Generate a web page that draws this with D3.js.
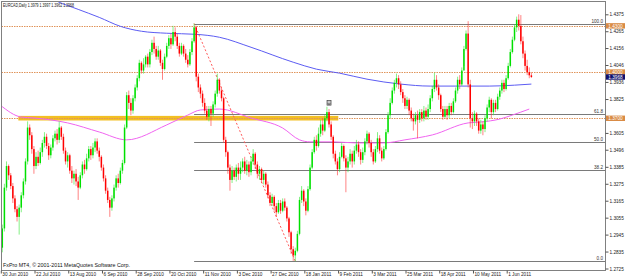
<!DOCTYPE html>
<html>
<head>
<meta charset="utf-8">
<script src="https://cdnjs.cloudflare.com/ajax/libs/d3/7.8.5/d3.min.js"></script>
<style>
  body { margin: 0; background: #ffffff; }
  svg { display: block; font-family: "Liberation Sans", Arial, sans-serif; }
</style>
</head>
<body>
<div id="grafiekContainer"></div>
<script>

var opens = [1.2860,1.2985,1.3250,1.3390,1.3330,1.3260,1.3180,1.3110,1.3060,1.3120,
  1.3200,1.3290,1.3420,1.3640,1.3590,1.3500,1.3390,1.3450,1.3410,1.3480,
  1.3540,1.3580,1.3520,1.3460,1.3510,1.3570,1.3600,1.3560,1.3640,1.3580,
  1.3490,1.3420,1.3460,1.3360,1.3310,1.3340,1.3290,1.3250,1.3330,1.3400,
  1.3370,1.3440,1.3500,1.3460,1.3510,1.3550,1.3490,1.3450,1.3380,1.3310,
  1.3230,1.3170,1.3120,1.3180,1.3250,1.3310,1.3280,1.3360,1.3410,1.3640,
  1.3850,1.3800,1.3750,1.3830,1.3900,1.3960,1.4060,1.4010,1.4050,1.4100,
  1.4050,1.4130,1.4190,1.4150,1.4100,1.4140,1.4060,1.4020,1.4100,1.4170,
  1.4220,1.4180,1.4260,1.4230,1.4170,1.4120,1.4170,1.4120,1.4080,1.4050,
  1.4130,1.4200,1.4290,1.3970,1.3900,1.3860,1.3800,1.3750,1.3710,1.3760,
  1.3730,1.3790,1.3860,1.3950,1.3880,1.3830,1.3560,1.3480,1.3380,1.3300,
  1.3360,1.3320,1.3380,1.3340,1.3380,1.3420,1.3360,1.3400,1.3350,1.3420,
  1.3470,1.3400,1.3340,1.3370,1.3300,1.3340,1.3270,1.3200,1.3150,1.3190,
  1.3130,1.3090,1.3150,1.3100,1.3160,1.3120,1.3050,1.2960,1.2850,1.2810,
  1.2840,1.2950,1.3170,1.3230,1.3160,1.3100,1.3240,1.3380,1.3480,1.3560,
  1.3520,1.3600,1.3660,1.3620,1.3700,1.3740,1.3660,1.3580,1.3470,1.3420,
  1.3370,1.3450,1.3520,1.3440,1.3380,1.3420,1.3470,1.3420,1.3490,1.3530,
  1.3480,1.3430,1.3480,1.3550,1.3600,1.3540,1.3480,1.3420,1.3500,1.3570,
  1.3490,1.3440,1.3500,1.3610,1.3720,1.3800,1.3880,1.3930,1.3960,1.3920,
  1.3870,1.3830,1.3780,1.3820,1.3750,1.3700,1.3680,1.3720,1.3690,1.3740,
  1.3700,1.3750,1.3710,1.3760,1.3830,1.3890,1.3950,1.3900,1.3850,1.3760,
  1.3710,1.3760,1.3720,1.3780,1.3740,1.3810,1.3880,1.3950,1.3920,1.4010,
  1.4150,1.4250,1.3920,1.3700,1.3680,1.3730,1.3680,1.3620,1.3660,1.3630,
  1.3700,1.3770,1.3820,1.3740,1.3800,1.3760,1.3840,1.3880,1.3930,1.3890,
  1.3960,1.4040,1.4130,1.4210,1.4290,1.4340,1.4300,1.4200,1.4120,1.4040,
  1.4000,1.3979];

var highs = [1.3010,1.3275,1.3420,1.3400,1.3345,1.3280,1.3200,1.3130,1.3140,1.3220,
  1.3310,1.3440,1.3680,1.3660,1.3610,1.3520,1.3480,1.3490,1.3510,1.3560,
  1.3610,1.3600,1.3540,1.3530,1.3590,1.3620,1.3630,1.3680,1.3650,1.3600,
  1.3510,1.3480,1.3470,1.3390,1.3360,1.3370,1.3320,1.3350,1.3420,1.3430,
  1.3470,1.3520,1.3520,1.3540,1.3570,1.3570,1.3510,1.3460,1.3400,1.3330,
  1.3250,1.3190,1.3200,1.3270,1.3330,1.3340,1.3380,1.3430,1.3660,1.3870,
  1.3880,1.3830,1.3850,1.3920,1.3980,1.4080,1.4070,1.4090,1.4110,1.4120,
  1.4150,1.4210,1.4230,1.4170,1.4170,1.4150,1.4080,1.4120,1.4190,1.4240,
  1.4250,1.4300,1.4290,1.4250,1.4190,1.4190,1.4180,1.4150,1.4110,1.4150,
  1.4220,1.4315,1.4300,1.3990,1.3920,1.3880,1.3830,1.3780,1.3780,1.3780,
  1.3810,1.3880,1.3990,1.3960,1.3900,1.3840,1.3580,1.3490,1.3400,1.3390,
  1.3380,1.3400,1.3410,1.3420,1.3440,1.3450,1.3430,1.3420,1.3450,1.3500,
  1.3480,1.3420,1.3390,1.3380,1.3360,1.3350,1.3290,1.3220,1.3210,1.3200,
  1.3150,1.3170,1.3170,1.3180,1.3180,1.3130,1.3060,1.2970,1.2870,1.2860,
  1.2970,1.3190,1.3260,1.3240,1.3180,1.3260,1.3400,1.3500,1.3580,1.3590,
  1.3640,1.3690,1.3700,1.3720,1.3775,1.3760,1.3680,1.3590,1.3490,1.3440,
  1.3480,1.3540,1.3530,1.3460,1.3450,1.3500,1.3490,1.3520,1.3560,1.3550,
  1.3500,1.3510,1.3570,1.3620,1.3610,1.3560,1.3500,1.3520,1.3610,1.3590,
  1.3510,1.3520,1.3630,1.3740,1.3830,1.3900,1.3950,1.3990,1.3980,1.3940,
  1.3890,1.3850,1.3840,1.3830,1.3770,1.3730,1.3740,1.3750,1.3760,1.3760,
  1.3780,1.3770,1.3790,1.3850,1.3910,1.3995,1.3980,1.3920,1.3860,1.3780,
  1.3780,1.3780,1.3800,1.3800,1.3830,1.3900,1.3970,1.3980,1.4030,1.4170,
  1.4270,1.4330,1.3950,1.3740,1.3750,1.3740,1.3700,1.3690,1.3680,1.3720,
  1.3790,1.3840,1.3830,1.3820,1.3820,1.3860,1.3900,1.3950,1.3950,1.3980,
  1.4060,1.4150,1.4230,1.4310,1.4360,1.4375,1.4370,1.4230,1.4140,1.4080,
  1.4030,1.3997];

var lows = [1.2830,1.2965,1.3230,1.3300,1.3240,1.3150,1.3090,1.3030,1.2945,1.3090,
  1.3180,1.3270,1.3400,1.3560,1.3470,1.3340,1.3370,1.3390,1.3400,1.3450,
  1.3510,1.3500,1.3430,1.3440,1.3490,1.3550,1.3530,1.3540,1.3560,1.3470,
  1.3400,1.3380,1.3340,1.3280,1.3270,1.3260,1.3170,1.3240,1.3310,1.3340,
  1.3360,1.3420,1.3430,1.3440,1.3480,1.3470,1.3420,1.3360,1.3290,1.3210,
  1.3150,1.3060,1.3100,1.3160,1.3230,1.3250,1.3270,1.3340,1.3400,1.3630,
  1.3760,1.3720,1.3730,1.3810,1.3880,1.3940,1.3990,1.3990,1.4030,1.4030,
  1.4030,1.4110,1.4120,1.4080,1.4080,1.4040,1.3950,1.4010,1.4090,1.4150,
  1.4150,1.4170,1.4200,1.4150,1.4100,1.4110,1.4100,1.4060,1.4030,1.4040,
  1.4110,1.4190,1.3940,1.3870,1.3830,1.3775,1.3730,1.3690,1.3680,1.3650,
  1.3710,1.3770,1.3840,1.3860,1.3810,1.3540,1.3450,1.3340,1.3230,1.3280,
  1.3300,1.3290,1.3300,1.3300,1.3350,1.3340,1.3330,1.3320,1.3330,1.3400,
  1.3370,1.3310,1.3300,1.3280,1.3270,1.3250,1.3180,1.3130,1.3130,1.3100,
  1.3060,1.3080,1.3080,1.3090,1.3100,1.3030,1.2930,1.2820,1.2775,1.2772,
  1.2830,1.2940,1.3150,1.3130,1.3070,1.3090,1.3230,1.3370,1.3470,1.3490,
  1.3510,1.3580,1.3590,1.3610,1.3680,1.3640,1.3560,1.3440,1.3400,1.3330,
  1.3350,1.3440,1.3420,1.3220,1.3350,1.3400,1.3380,1.3400,1.3470,1.3450,
  1.3400,1.3410,1.3460,1.3530,1.3510,1.3450,1.3400,1.3410,1.3480,1.3470,
  1.3420,1.3430,1.3490,1.3600,1.3700,1.3790,1.3860,1.3900,1.3890,1.3850,
  1.3800,1.3760,1.3760,1.3720,1.3680,1.3620,1.3660,1.3570,1.3670,1.3680,
  1.3680,1.3690,1.3690,1.3740,1.3810,1.3870,1.3880,1.3820,1.3740,1.3690,
  1.3700,1.3690,1.3700,1.3720,1.3730,1.3800,1.3860,1.3890,1.3910,1.4040,
  1.4140,1.3900,1.3640,1.3630,1.3650,1.3650,1.3600,1.3600,1.3590,1.3610,
  1.3680,1.3740,1.3700,1.3720,1.3740,1.3750,1.3820,1.3860,1.3870,1.3880,
  1.3950,1.4030,1.4120,1.4200,1.4260,1.4270,1.4180,1.4090,1.4010,1.3980,
  1.3960,1.3962];

var closes = [1.2985,1.3250,1.3390,1.3330,1.3260,1.3180,1.3110,1.3060,1.3120,1.3200,
  1.3290,1.3420,1.3640,1.3590,1.3500,1.3390,1.3450,1.3410,1.3480,1.3540,
  1.3580,1.3520,1.3460,1.3510,1.3570,1.3600,1.3560,1.3640,1.3580,1.3490,
  1.3420,1.3460,1.3360,1.3310,1.3340,1.3290,1.3250,1.3330,1.3400,1.3370,
  1.3440,1.3500,1.3460,1.3510,1.3550,1.3490,1.3450,1.3380,1.3310,1.3230,
  1.3170,1.3120,1.3180,1.3250,1.3310,1.3280,1.3360,1.3410,1.3640,1.3850,
  1.3800,1.3750,1.3830,1.3900,1.3960,1.4060,1.4010,1.4050,1.4100,1.4050,
  1.4130,1.4190,1.4150,1.4100,1.4140,1.4060,1.4020,1.4100,1.4170,1.4220,
  1.4180,1.4260,1.4230,1.4170,1.4120,1.4170,1.4120,1.4080,1.4050,1.4130,
  1.4200,1.4290,1.3970,1.3900,1.3860,1.3800,1.3750,1.3710,1.3760,1.3730,
  1.3790,1.3860,1.3950,1.3880,1.3830,1.3560,1.3480,1.3380,1.3300,1.3360,
  1.3320,1.3380,1.3340,1.3380,1.3420,1.3360,1.3400,1.3350,1.3420,1.3470,
  1.3400,1.3340,1.3370,1.3300,1.3340,1.3270,1.3200,1.3150,1.3190,1.3130,
  1.3090,1.3150,1.3100,1.3160,1.3120,1.3050,1.2960,1.2850,1.2810,1.2840,
  1.2950,1.3170,1.3230,1.3160,1.3100,1.3240,1.3380,1.3480,1.3560,1.3520,
  1.3600,1.3660,1.3620,1.3700,1.3740,1.3660,1.3580,1.3470,1.3420,1.3370,
  1.3450,1.3520,1.3440,1.3380,1.3420,1.3470,1.3420,1.3490,1.3530,1.3480,
  1.3430,1.3480,1.3550,1.3600,1.3540,1.3480,1.3420,1.3500,1.3570,1.3490,
  1.3440,1.3500,1.3610,1.3720,1.3800,1.3880,1.3930,1.3960,1.3920,1.3870,
  1.3830,1.3780,1.3820,1.3750,1.3700,1.3680,1.3720,1.3690,1.3740,1.3700,
  1.3750,1.3710,1.3760,1.3830,1.3890,1.3950,1.3900,1.3850,1.3760,1.3710,
  1.3760,1.3720,1.3780,1.3740,1.3810,1.3880,1.3950,1.3920,1.4010,1.4150,
  1.4250,1.3920,1.3700,1.3680,1.3730,1.3680,1.3620,1.3660,1.3630,1.3700,
  1.3770,1.3820,1.3740,1.3800,1.3760,1.3840,1.3880,1.3930,1.3890,1.3960,
  1.4040,1.4130,1.4210,1.4290,1.4340,1.4300,1.4200,1.4120,1.4040,1.4000,
  1.3979,1.3968];

var blauwIndex = [20, 26, 36, 46, 56, 66, 78, 92, 103, 118, 138, 149, 160, 173, 189, 203, 217, 231, 243, 251];
var blauwWaarde = [1.4500, 1.4459, 1.4407, 1.4355, 1.4297, 1.4265, 1.4252, 1.4245, 1.4226, 1.4161,
  1.4064, 1.4019, 1.3993, 1.3954, 1.3922, 1.3909, 1.3909, 1.3909, 1.3915, 1.3922];
var rozeIndex = [-1, 9, 15, 31, 46, 59, 78, 88, 94, 103, 118, 133, 141, 146, 157, 168, 181, 191, 204, 221, 227, 236, 242, 250];
var rozeWaarde = [1.3786, 1.3708, 1.3702, 1.3670, 1.3611, 1.3560, 1.3657, 1.3721, 1.3754, 1.3760,
  1.3702, 1.3637, 1.3560, 1.3547, 1.3547, 1.3540, 1.3540, 1.3560, 1.3592, 1.3670,
  1.3676, 1.3695, 1.3721, 1.3760];

// horizontale niveaus en fibonacci
var niveaus = [1.4300, 1.4000, 1.3700];
var zoneNiveau = 1.3700;
var zoneVan = 7.6, zoneTot = 159.4;
var fibStart = 91, fibEind = 139;
var fibHoog = 1.4315, fibLaag = 1.2772;
var fibProcent = [100.0, 61.8, 50.0, 38.2, 0.0];
var fibLabels = ["100.0", "61.8", "50.0", "38.2", "0.0"];
var pijlIndex = 155, pijlKoers = 1.3792;

// as labels (1.3715 valt weg achter het label van 1.3700)
var prijsTicks = [1.4375, 1.4265, 1.4156, 1.4046, 1.3936, 1.3825, 1.3605,
  1.3496, 1.3385, 1.3275, 1.3165, 1.3055, 1.2945, 1.2835, 1.2725];
var datumIndex = [0, 16, 32, 48, 64, 80, 96, 112, 128, 144, 160, 176, 192, 208, 224, 240];
var datumLabels = ["30 Jun 2010", "22 Jul 2010", "13 Aug 2010", "6 Sep 2010", "28 Sep 2010",
  "20 Oct 2010", "11 Nov 2010", "3 Dec 2010", "27 Dec 2010", "18 Jan 2011", "9 Feb 2011",
  "3 Mar 2011", "25 Mar 2011", "18 Apr 2011", "10 May 2011", "1 Jun 2011"];
var kop = "EURCAD,Daily  1.3979 1.3997 1.3962 1.3968";
var voet = "FxPro MT4, \u00a9 2001-2011 MetaQuotes Software Corp.";
var huidigeKoers = 1.3968;

var breedte = 625, hoogte = 279;
var plot = {links: 1.5, boven: 1.5, rechts: 605.5, onder: 270.5};

// maak een SVG element
var svg = d3.select("#grafiekContainer")
            .append("svg")
            .attr("width", breedte)
            .attr("height", hoogte);

svg.append("rect")
   .attr("width", breedte)
   .attr("height", hoogte)
   .attr("fill", "#ffffff");

// schaalfuncties
var x = d3.scaleLinear().domain([0, 240]).range([2.3, 508.2]);
var xAs = d3.scaleLinear().domain([0, 240]).range([0.8, 506.7]);
var y = d3.scaleLinear().domain([1.2725, 1.4375]).range([268.5, 14.3]);

svg.append("clipPath")
   .attr("id", "plotClip")
   .append("rect")
   .attr("x", plot.links)
   .attr("y", plot.boven)
   .attr("width", plot.rechts - plot.links)
   .attr("height", plot.onder - plot.boven);

var laag = svg.append("g").attr("clip-path", "url(#plotClip)");

// gele zone rond 1.3700
laag.append("rect")
    .attr("x", x(zoneVan))
    .attr("width", x(zoneTot) - x(zoneVan))
    .attr("y", y(zoneNiveau) - 2.4)
    .attr("height", 4.6)
    .attr("fill", "#f2bf22");

// oranje gestippelde niveaus
laag.selectAll(".niveau")
    .data(niveaus)
    .enter()
    .append("line")
    .attr("class", "niveau")
    .attr("x1", plot.links)
    .attr("x2", plot.rechts)
    .attr("y1", function(d) { return Math.round(y(d)) + 0.5; })
    .attr("y2", function(d) { return Math.round(y(d)) + 0.5; })
    .attr("stroke", "#e0945a")
    .attr("stroke-width", 1)
    .attr("stroke-dasharray", "1.5,1");

// fibonacci niveaus
var fibNiveaus = fibProcent.map(function(p, i) {
  return {koers: fibLaag + (fibHoog - fibLaag) * p / 100, label: fibLabels[i]};
});

laag.selectAll(".fib")
    .data(fibNiveaus)
    .enter()
    .append("line")
    .attr("class", "fib")
    .attr("x1", x(fibStart))
    .attr("x2", plot.rechts)
    .attr("y1", function(d) { return Math.round(y(d.koers)) + 0.5; })
    .attr("y2", function(d) { return Math.round(y(d.koers)) + 0.5; })
    .attr("stroke", "#7a7a7a")
    .attr("stroke-width", 1);

svg.selectAll(".fibTekst")
   .data(fibNiveaus)
   .enter()
   .append("text")
   .attr("class", "fibTekst")
   .attr("x", 603)
   .attr("y", function(d) { return Math.round(y(d.koers)) - 1; })
   .attr("text-anchor", "end")
   .attr("font-size", "4.6px")
   .attr("fill", "#333")
   .text(function(d) { return d.label; });

// voortschrijdende gemiddelden
var lijn = d3.line()
             .x(function(d) { return x(d[0]); })
             .y(function(d) { return y(d[1]); })
             .curve(d3.curveMonotoneX);

laag.append("path")
    .datum(blauwIndex.map(function(d, i) { return [d, blauwWaarde[i]]; }))
    .attr("d", lijn)
    .attr("fill", "none")
    .attr("stroke", "#5c5cf2")
    .attr("stroke-width", 1);

laag.append("path")
    .datum(rozeIndex.map(function(d, i) { return [d, rozeWaarde[i]]; }))
    .attr("d", lijn)
    .attr("fill", "none")
    .attr("stroke", "#f064f0")
    .attr("stroke-width", 1);

// gestippelde fibonacci diagonaal
laag.append("line")
    .attr("x1", x(fibStart))
    .attr("y1", y(fibHoog))
    .attr("x2", x(fibEind))
    .attr("y2", y(fibLaag))
    .attr("stroke", "#ff5a5a")
    .attr("stroke-width", 1)
    .attr("stroke-dasharray", "2,2");

// kaarsen
var kaarsData = closes.map(function(c, i) {
  return {i: i, o: opens[i], h: highs[i], l: lows[i], c: c};
});

var kaarsen = laag.append("g");

kaarsen.selectAll(".lont")
       .data(kaarsData)
       .enter()
       .append("line")
       .attr("class", "lont")
       .attr("x1", function(d) { return x(d.i); })
       .attr("x2", function(d) { return x(d.i); })
       .attr("y1", function(d) { return y(d.h); })
       .attr("y2", function(d) { return y(d.l); })
       .attr("stroke", function(d) { return d.c >= d.o ? "#33e633" : "#ff3030"; })
       .attr("stroke-opacity", 0.6)
       .attr("stroke-width", 1);

kaarsen.selectAll(".lijf")
       .data(kaarsData)
       .enter()
       .append("rect")
       .attr("class", "lijf")
       .attr("x", function(d) { return x(d.i) - 0.75; })
       .attr("width", 1.5)
       .attr("y", function(d) { return y(Math.max(d.o, d.c)); })
       .attr("height", function(d) { return Math.max(1, Math.abs(y(d.o) - y(d.c))); })
       .attr("fill", function(d) { return d.c >= d.o ? "#00e000" : "#ff0000"; });

// pijl boven de top van februari
var pijl = svg.append("g")
              .attr("transform", "translate(" + x(pijlIndex) + "," + y(pijlKoers) + ")");
pijl.append("rect")
    .attr("x", -2).attr("y", -3.5).attr("width", 4).attr("height", 4.5)
    .attr("fill", "#c8c8c8")
    .attr("stroke", "#404040")
    .attr("stroke-width", 0.7);
pijl.append("path")
    .attr("d", "M-1.2,-1 L0,0.6 L1.2,-1")
    .attr("fill", "none")
    .attr("stroke", "#303030").attr("stroke-width", 0.7);

// kader
svg.append("rect")
   .attr("x", plot.links)
   .attr("y", plot.boven)
   .attr("width", plot.rechts - plot.links)
   .attr("height", plot.onder - plot.boven)
   .attr("fill", "none")
   .attr("stroke", "#808080")
   .attr("stroke-width", 1);

// prijs-as rechts
var asY = d3.axisRight(y)
            .tickValues(prijsTicks)
            .tickSize(3)
            .tickPadding(1)
            .tickFormat(d3.format(".4f"));

var gY = svg.append("g")
            .attr("transform", "translate(" + plot.rechts + ",0)")
            .call(asY);
gY.select(".domain").remove();
gY.selectAll("line").attr("stroke", "#555");
gY.selectAll("text")
  .attr("font-size", "4.7px")
  .attr("font-family", "Liberation Sans, Arial, sans-serif")
  .attr("fill", "#222");

// datum-as onder
var asX = d3.axisBottom(xAs)
            .tickValues(datumIndex)
            .tickSize(3)
            .tickFormat(function(d, i) { return datumLabels[i]; });

var gX = svg.append("g")
            .attr("transform", "translate(0," + plot.onder + ")")
            .call(asX);
gX.select(".domain").remove();
gX.selectAll("line").attr("stroke", "#555");
gX.selectAll("text")
  .attr("text-anchor", "start")
  .attr("x", 1)
  .attr("y", 1.8)
  .attr("dy", "0.71em")
  .attr("font-size", "4.7px")
  .attr("font-family", "Liberation Sans, Arial, sans-serif")
  .attr("fill", "#222");

// gekleurde prijslabels
var labelData = niveaus.map(function(d) { return {koers: d, kleur: "#d98b45"}; });
labelData.push({koers: huidigeKoers, kleur: "#10106e"});

var labels = svg.selectAll(".prijsLabel")
                .data(labelData)
                .enter()
                .append("g")
                .attr("class", "prijsLabel")
                .attr("transform", function(d) { return "translate(606," + y(d.koers) + ")"; });
labels.append("rect")
      .attr("x", 0).attr("y", -2.7).attr("width", 19).attr("height", 5.4)
      .attr("fill", function(d) { return d.kleur; });
labels.append("text")
      .attr("x", 9.5).attr("y", 1.7)
      .attr("text-anchor", "middle")
      .attr("font-size", "4.7px")
      .attr("fill", "#ffffff")
      .text(function(d) { return d3.format(".4f")(d.koers); });

// kop en voettekst
svg.append("text")
   .attr("x", 3).attr("y", 7.4)
   .attr("font-size", "5px")
   .attr("textLength", 71)
   .attr("lengthAdjust", "spacingAndGlyphs")
   .attr("fill", "#111")
   .text(kop);

svg.append("text")
   .attr("x", 3).attr("y", 267.2)
   .attr("font-size", "5px")
   .attr("textLength", 127)
   .attr("lengthAdjust", "spacingAndGlyphs")
   .attr("fill", "#111")
   .text(voet);

</script>
</body>
</html>
